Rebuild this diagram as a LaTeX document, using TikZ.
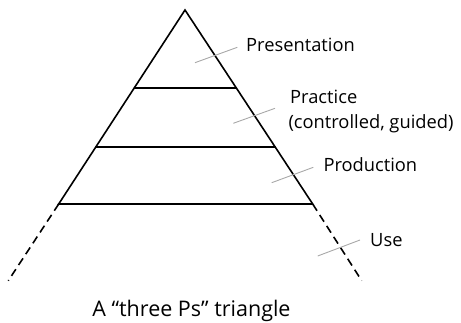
\documentclass[tikz,border=0pt]{standalone}
\usepackage{fontspec}
\setmainfont{Open Sans}
\usetikzlibrary{calc}
\definecolor{leadgray}{HTML}{A8A8A8}
\tikzset{
  edge/.style={line width=1.6pt, black, line cap=round, line join=miter},
  ext/.style={line width=1.6pt, black, dash pattern=on 8pt off 5pt},
  leader/.style={line width=0.9pt, leadgray},
  lbl/.style={anchor=base west, inner sep=0pt, font=\fontsize{18.3}{21}\selectfont},
}
\begin{document}
\begin{tikzpicture}[x=1pt,y=-1pt]
\useasboundingbox (0,0) rectangle (461,322);
\coordinate (A) at (185,10);
\coordinate (BL) at (58.7,204);
\coordinate (BR) at (312.7,204);
\coordinate (L1) at ($(A)!0.402!(BL)$);
\coordinate (R1) at ($(A)!0.402!(BR)$);
\coordinate (L2) at ($(A)!0.7062!(BL)$);
\coordinate (R2) at ($(A)!0.7062!(BR)$);
\coordinate (EL) at (8.3,280.7);
\coordinate (ER) at (361.7,280.7);
\draw[edge] (BL) -- (A) -- (BR) -- cycle;
\draw[edge] (L1) -- (R1);
\draw[edge] (L2) -- (R2);
\draw[ext] (BL) -- (EL);
\draw[ext] (BR) -- (ER);
% labels
\node[lbl] (pres) at (246,51) {Presentation};
\node[lbl] (prac) at (290,103.3) {Practice};
\node[lbl] (prac2) at (288.3,128.3) {(controlled, guided)};
\node[lbl] (prod) at (323.3,171.7) {Production};
\node[lbl] (use) at (370,246) {Use};
\node[anchor=base, inner sep=0pt, font=\fontsize{21.5}{25}\selectfont] (cap) at (191.5,316.7) {A “three Ps” triangle};
% leaders
\coordinate (p1a) at (195,62.7); \coordinate (p1b) at (237.3,47.3);
\coordinate (p2a) at (233.3,123.3); \coordinate (p2b) at (275,108.3);
\coordinate (p3a) at (271.7,182.7); \coordinate (p3b) at (313.3,167.3);
\coordinate (p4a) at (317.7,256); \coordinate (p4b) at (360,240);
\draw[leader] (p1a) -- (p1b);
\draw[leader] (p2a) -- (p2b);
\draw[leader] (p3a) -- (p3b);
\draw[leader] (p4a) -- (p4b);
\end{tikzpicture}
\end{document}
